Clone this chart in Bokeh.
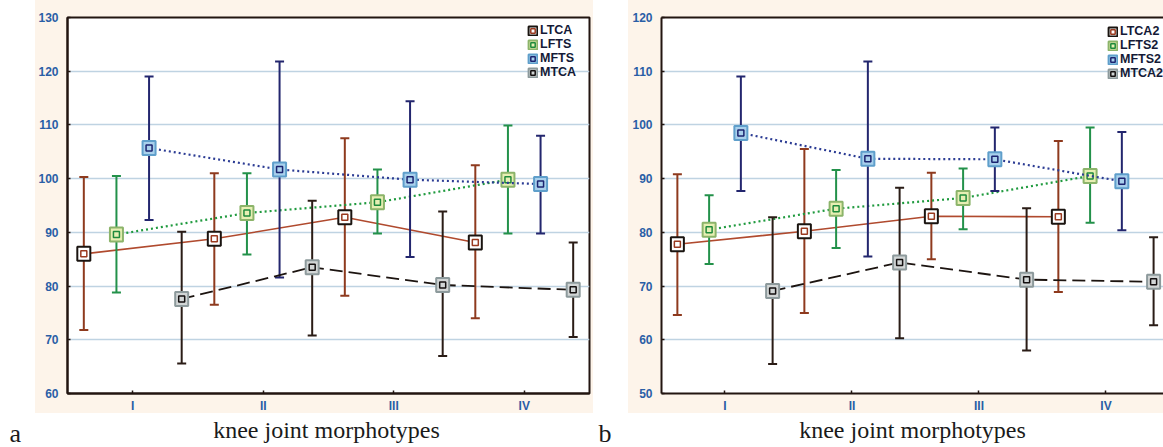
from bokeh.plotting import figure
from bokeh.layouts import row, column
from bokeh.models import (Range1d, FixedTicker, SingleIntervalTicker, LinearAxis,
                          Legend, LegendItem, Label)
from bokeh.embed import file_html
from bokeh.resources import INLINE

# ---------------- data ----------------
categories = ["I", "II", "III", "IV"]

series_a = ["LTCA", "LFTS", "MFTS", "MTCA"]
ltca_mean = [86.0, 88.8, 92.8, 88.1]
ltca_low = [71.8, 76.5, 78.2, 74.0]
ltca_high = [100.3, 101.0, 107.5, 102.5]
lfts_mean = [89.6, 93.6, 95.6, 99.8]
lfts_low = [78.8, 85.9, 89.8, 89.8]
lfts_high = [100.5, 101.0, 101.7, 109.9]
mfts_mean = [105.7, 101.7, 99.8, 99.0]
mfts_low = [92.3, 81.6, 85.4, 89.8]
mfts_high = [119.0, 121.8, 114.4, 108.0]
mtca_mean = [77.6, 83.5, 80.2, 79.3]
mtca_low = [65.6, 70.8, 67.0, 70.5]
mtca_high = [90.1, 95.9, 93.9, 88.1]

series_b = ["LTCA2", "LFTS2", "MFTS2", "MTCA2"]
ltca2_mean = [77.8, 80.2, 83.0, 82.9]
ltca2_low = [64.6, 65.0, 75.0, 68.9]
ltca2_high = [90.8, 95.5, 91.1, 97.0]
lfts2_mean = [80.5, 84.4, 86.4, 90.5]
lfts2_low = [74.1, 77.1, 80.6, 81.8]
lfts2_high = [86.9, 91.6, 91.9, 99.5]
mfts2_mean = [98.5, 93.7, 93.6, 89.5]
mfts2_low = [87.7, 75.5, 87.7, 80.4]
mfts2_high = [109.0, 111.8, 99.5, 98.7]
mtca2_mean = [69.1, 74.4, 71.2, 70.8]
mtca2_low = [55.5, 60.3, 58.0, 62.7]
mtca2_high = [82.8, 88.3, 84.5, 79.1]

x_title = "knee joint morphotypes"
panel_letters = ["a", "b"]

# ---------------- styles ----------------
CREAM = "#fdf4ea"
AXIS_C = "#221510"
TICK_C = "#2a5ea6"
offsets = [-0.375, -0.125, 0.125, 0.375]
line_color = ["#b04a2e", "#1f9a3e", "#2c3c94", "#1c1410"]
line_dash = ["solid", "2 3", "2 3", "13 6"]
line_width = [1.6, 2.2, 2.2, 1.8]
err_color = ["#8e3a1e", "#23914a", "#23266e", "#2a1c16"]
box_fill = ["#ffffff", "#e7efb3", "#a9d0ec", "#d2d6d6"]
box_line = ["#1a1410", "#8cb46a", "#5f9fcb", "#8d9a9c"]
inner_line = ["#9a3a20", "#1f8a3c", "#1c2470", "#141010"]

PLOT_H = 415


def panel(names, means, lows, highs, y0, y1, width, mbl, mbr, mbt, x_end,
          outline, lx, ly, bg_x0, bg_w):
    p = figure(width=width, height=PLOT_H,
               x_range=Range1d(-0.5, x_end), y_range=Range1d(y0, y1),
               output_backend="svg", toolbar_location=None,
               min_border_left=mbl, min_border_right=mbr,
               min_border_top=mbt, min_border_bottom=PLOT_H - 394,
               border_fill_color=None, background_fill_color="white",
               outline_line_color=AXIS_C if outline else None,
               outline_line_width=2,
               styles={"background": f"linear-gradient({CREAM},{CREAM}) {bg_x0}px 0px / {bg_w}px 413px no-repeat, #ffffff"})

    p.xgrid.visible = False
    p.ygrid.grid_line_color = "#bfd3e2"
    p.ygrid.grid_line_width = 1.5

    p.yaxis.ticker = SingleIntervalTicker(interval=10)
    p.xaxis.ticker = FixedTicker(ticks=list(range(len(categories))))
    p.xaxis.major_label_overrides = {i: c for i, c in enumerate(categories)}

    for ax in (p.xaxis[0], p.yaxis[0]):
        ax.axis_line_color = AXIS_C
        ax.axis_line_width = 2
        ax.major_tick_in = 3
        ax.major_tick_out = 0
        ax.major_tick_line_color = AXIS_C
        ax.major_tick_line_width = 1.5
        ax.minor_tick_line_color = None
        ax.major_label_text_font = "Liberation Sans"
        ax.major_label_text_font_style = "bold"
        ax.major_label_text_font_size = "12px"
        ax.major_label_text_color = TICK_C
    p.xaxis[0].major_label_standoff = 5
    p.yaxis[0].major_label_standoff = 5

    if not outline:
        top = LinearAxis(ticker=FixedTicker(ticks=[]),
                         axis_line_color=AXIS_C, axis_line_width=2,
                         major_tick_line_color=None, minor_tick_line_color=None)
        p.add_layout(top, "above")

    items = []
    for s in range(len(names)):
        xs = [i + offsets[s] for i in range(len(categories))]
        p.line(xs, means[s], line_color=line_color[s], line_dash=line_dash[s],
               line_width=line_width[s])
        p.segment(x0=xs, y0=lows[s], x1=xs, y1=highs[s],
                  line_color=err_color[s], line_width=2)
        p.scatter(xs, lows[s], marker="dash", size=9, line_color=err_color[s], line_width=2)
        p.scatter(xs, highs[s], marker="dash", size=9, line_color=err_color[s], line_width=2)
        outer = p.rect(xs, means[s], width=13, height=14, width_units="screen",
                       height_units="screen", fill_color=box_fill[s],
                       line_color=box_line[s], line_width=2)
        inner = p.scatter(xs, means[s], marker="square", size=6,
                          fill_color=box_fill[s], line_color=inner_line[s],
                          line_width=1.5)
        items.append(LegendItem(label=names[s], renderers=[outer, inner]))

    legend = Legend(items=items, location=(lx, ly), glyph_width=11, glyph_height=11,
                    label_text_font="Liberation Sans", label_text_font_style="bold",
                    label_text_font_size="12.5px", label_text_color="#141a36",
                    label_height=12, label_standoff=2, spacing=0, padding=0,
                    margin=0, border_line_color=None, background_fill_alpha=0)
    p.add_layout(legend)
    return p


pa = panel(series_a,
           [ltca_mean, lfts_mean, mfts_mean, mtca_mean],
           [ltca_low, lfts_low, mfts_low, mtca_low],
           [ltca_high, lfts_high, mfts_high, mtca_high],
           60, 130, 595, 67, 6, 16, 3.5, True, 460, 314, 35, 558)

pb = panel(series_b,
           [ltca2_mean, lfts2_mean, mfts2_mean, mtca2_mean],
           [ltca2_low, lfts2_low, mfts2_low, mtca2_low],
           [ltca2_high, lfts2_high, mfts2_high, mtca2_high],
           50, 120, 568, 66, 0, 17, 3.453, False, 446, 313, 33, 535)

# caption strip with the panel letters and x-axis titles
CAP_H = 447 - PLOT_H
cap = figure(width=1163, height=CAP_H, x_range=Range1d(0, 1163),
             y_range=Range1d(0, CAP_H), output_backend="svg",
             toolbar_location=None, x_axis_type=None, y_axis_type=None,
             min_border=0, outline_line_color=None,
             background_fill_color="white", border_fill_color="white")
for letter, lx_, tx_ in zip(panel_letters, [9, 598], [326, 912]):
    cap.add_layout(Label(x=tx_, y=18, x_units="screen", y_units="screen",
                         text=x_title, text_align="center", text_baseline="alphabetic",
                         text_font="Liberation Serif", text_font_size="24px",
                         text_color="#1a1a1a"))
    cap.add_layout(Label(x=lx_, y=14, x_units="screen", y_units="screen",
                         text=letter, text_align="left", text_baseline="alphabetic",
                         text_font="Liberation Serif", text_font_size="26px",
                         text_color="#1a1a1a"))

layout = column(row(pa, pb), cap, spacing=0)

open("out.html", "w").write(file_html(layout, INLINE))
